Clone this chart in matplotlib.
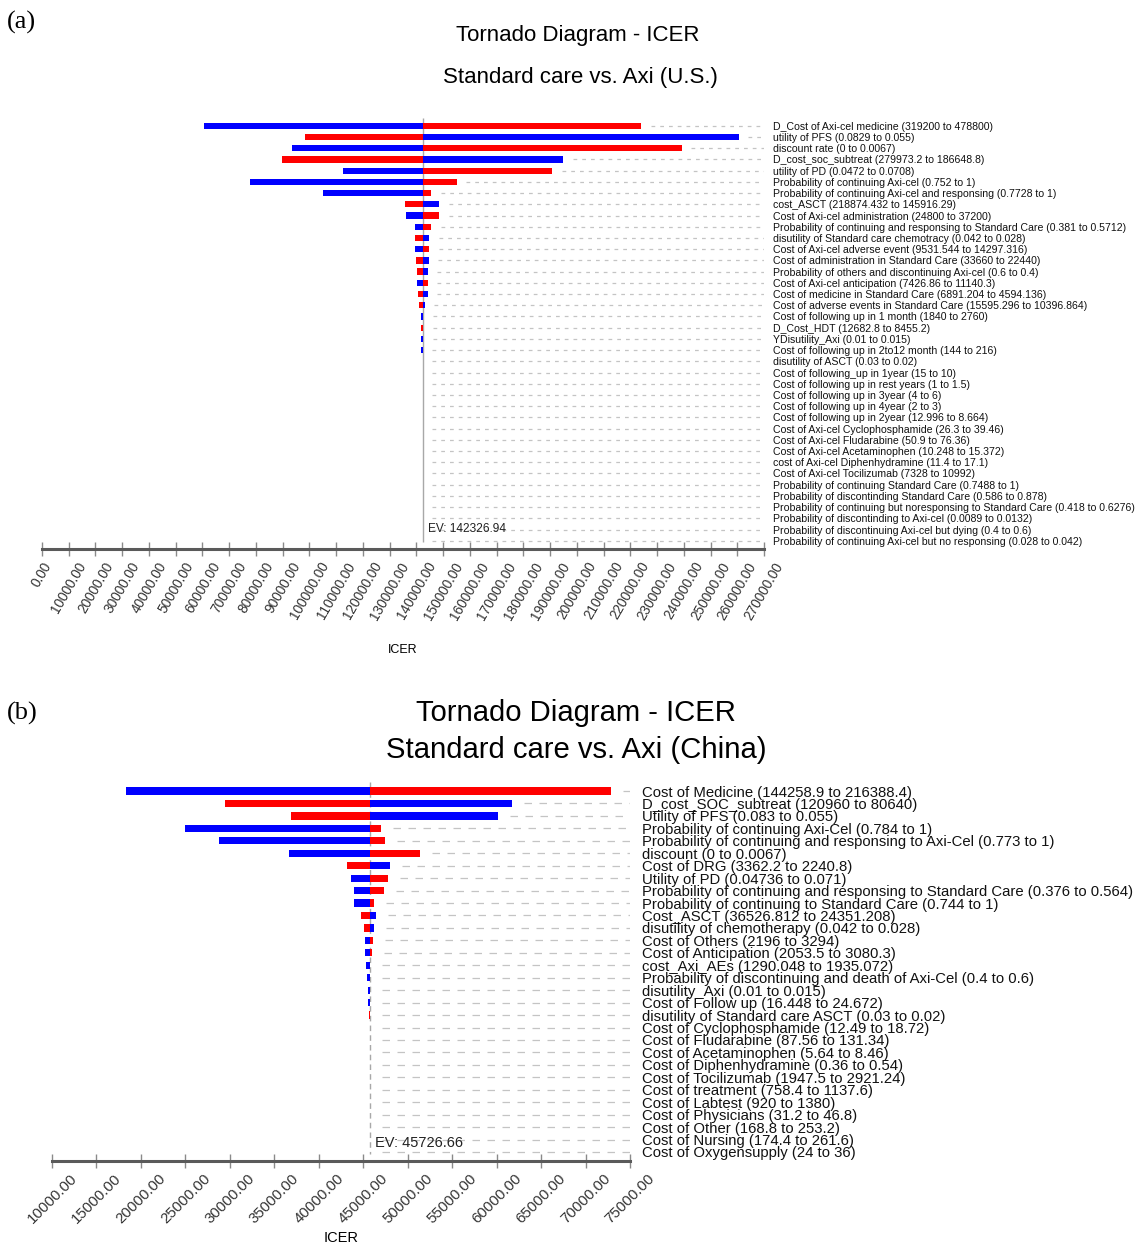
import matplotlib
matplotlib.use("Agg")
import matplotlib.pyplot as plt
from matplotlib import font_manager
import numpy as np

# ---------------- panel (a): U.S. ----------------
us_labels = [
    "D_Cost of Axi-cel medicine (319200 to 478800)",
    "utility of PFS (0.0829 to 0.055)",
    "discount rate (0 to 0.0067)",
    "D_cost_soc_subtreat (279973.2 to 186648.8)",
    "utility of PD (0.0472 to 0.0708)",
    "Probability of continuing Axi-cel (0.752 to 1)",
    "Probability of continuing Axi-cel and responsing (0.7728 to 1)",
    "cost_ASCT (218874.432 to 145916.29)",
    "Cost of Axi-cel administration (24800 to 37200)",
    "Probability of continuing and responsing to Standard Care (0.381 to 0.5712)",
    "disutility of Standard care chemotracy (0.042 to 0.028)",
    "Cost of Axi-cel adverse event (9531.544 to 14297.316)",
    "Cost of administration in Standard Care (33660 to 22440)",
    "Probability of others and discontinuing Axi-cel (0.6 to 0.4)",
    "Cost of Axi-cel anticipation (7426.86 to 11140.3)",
    "Cost of medicine in Standard Care (6891.204 to 4594.136)",
    "Cost of adverse events in Standard Care (15595.296 to 10396.864)",
    "Cost of following up in 1 month (1840 to 2760)",
    "D_Cost_HDT (12682.8 to 8455.2)",
    "YDisutility_Axi (0.01 to 0.015)",
    "Cost of following up in 2to12 month (144 to 216)",
    "disutility of ASCT (0.03 to 0.02)",
    "Cost of following_up in 1year (15 to 10)",
    "Cost of following up in rest years (1 to 1.5)",
    "Cost of following up in 3year (4 to 6)",
    "Cost of following up in 4year (2 to 3)",
    "Cost of following up in 2year (12.996 to 8.664)",
    "Cost of Axi-cel Cyclophosphamide (26.3 to 39.46)",
    "Cost of Axi-cel Fludarabine (50.9 to 76.36)",
    "Cost of Axi-cel Acetaminophen (10.248 to 15.372)",
    "cost of Axi-cel Diphenhydramine (11.4 to 17.1)",
    "Cost of Axi-cel Tocilizumab (7328 to 10992)",
    "Probability of continuing Standard Care (0.7488 to 1)",
    "Probability of discontinding Standard Care (0.586 to 0.878)",
    "Probability of continuing but noresponsing to Standard Care (0.418 to 0.6276)",
    "Probability of discontinding to Axi-cel (0.0089 to 0.0132)",
    "Probability of discontinuing Axi-cel but dying (0.4 to 0.6)",
    "Probability of continuing Axi-cel but no responsing (0.028 to 0.042)",
]
# ICER at the low end of each parameter (blue) and at the high end (red)
us_blue = [60600, 260500, 93500, 195000, 112700, 77700, 105100, 148500, 136000,
           139600, 144900, 139600, 144600, 144300, 140300, 144200, 143100, 141800,
           142450, 141800, 141900, 142350, 142350, 142350, 142350, 142350, 142350,
           142350, 142350, 142350, 142350, 142350, 142350, 142350, 142350, 142350,
           142350, 142350]
us_red = [224000, 98500, 239200, 89700, 190700, 155100, 145600, 135800, 148500,
          145600, 139600, 144800, 140000, 140300, 144300, 140500, 141000, 142450,
          141900, 142450, 142400, 142300, 142300, 142300, 142300, 142300, 142300,
          142300, 142300, 142300, 142300, 142300, 142300, 142300, 142300, 142300,
          142300, 142300]
us_ev = 142326.94
us_ticks = np.arange(0, 270001, 10000)

# ---------------- panel (b): China ----------------
cn_labels = [
    "Cost of Medicine (144258.9 to 216388.4)",
    "D_cost_SOC_subtreat (120960 to 80640)",
    "Utility of PFS (0.083 to 0.055)",
    "Probability of continuing Axi-Cel (0.784 to 1)",
    "Probability of continuing and responsing to Axi-Cel (0.773 to 1)",
    "discount (0 to 0.0067)",
    "Cost of DRG (3362.2 to 2240.8)",
    "Utility of PD (0.04736 to 0.071)",
    "Probability of continuing and responsing to Standard Care (0.376 to 0.564)",
    "Probability of continuing to Standard Care (0.744 to 1)",
    "Cost_ASCT (36526.812 to 24351.208)",
    "disutility of chemotherapy (0.042 to 0.028)",
    "Cost of Others (2196 to 3294)",
    "Cost of Anticipation (2053.5 to 3080.3)",
    "cost_Axi_AEs (1290.048 to 1935.072)",
    "Probability of discontinuing and death of Axi-Cel (0.4 to 0.6)",
    "disutility_Axi (0.01 to 0.015)",
    "Cost of Follow up (16.448 to 24.672)",
    "disutility of Standard care ASCT (0.03 to 0.02)",
    "Cost of Cyclophosphamide (12.49 to 18.72)",
    "Cost of Fludarabine (87.56 to 131.34)",
    "Cost of Acetaminophen (5.64 to 8.46)",
    "Cost of Diphenhydramine (0.36 to 0.54)",
    "Cost of Tocilizumab (1947.5 to 2921.24)",
    "Cost of treatment (758.4 to 1137.6)",
    "Cost of Labtest (920 to 1380)",
    "Cost of Physicians (31.2 to 46.8)",
    "Cost of Other (168.8 to 253.2)",
    "Cost of Nursing (174.4 to 261.6)",
    "Cost of Oxygensupply (24 to 36)",
]
cn_blue = [18300, 61700, 60200, 25000, 28800, 36700, 48000, 43600, 44000, 44000,
           46400, 46200, 45200, 45200, 45330, 45450, 45500, 45500, 45760, 45740,
           45740, 45740, 45740, 45740, 45740, 45740, 45740, 45740, 45740, 45740]
cn_red = [72900, 29400, 36900, 47000, 47400, 51400, 43200, 47800, 47300, 46200,
          44800, 45100, 46070, 45990, 45780, 45760, 45750, 45750, 45600, 45710,
          45710, 45710, 45710, 45710, 45710, 45710, 45710, 45710, 45710, 45710]
cn_ev = 45726.66
cn_ticks = np.arange(10000, 75001, 5000)

W, H = 1146, 1245
BLUE = "#0000ff"
RED = "#ff0000"

available = {f.name for f in font_manager.fontManager.ttflist}
# the (a) panel uses a narrow face in the original; fall back to Liberation Sans
NARROW = "Liberation Sans Narrow" if "Liberation Sans Narrow" in available else "Liberation Sans"
REG = "Liberation Sans"


def axes_rect(x0, x1, y0, y1):
    """pixel box -> figure fraction rect"""
    return [x0 / W, 1 - y1 / H, (x1 - x0) / W, (y1 - y0) / H]


def draw_tornado(ax, labels, blue, red, ev, ticks, font, lab_size, tick_size,
                 tick_rot, pad, gap, dash, center_style, bar_h=0.56):
    rows = np.arange(1, len(labels) + 1)
    blue = np.array(blue, dtype=float)
    red = np.array(red, dtype=float)
    xmax = ticks[-1]

    # dashed guide lines to the right of each bar
    start = np.maximum(np.maximum(blue, red), ev) + gap
    ax.hlines(rows, start, xmax, colors="#c4c4c4", linestyles=[(0, dash)],
              lw=0.9, zorder=1)
    # centre line at the expected value
    ax.vlines(ev, rows[0] - 0.7, rows[-1] + 0.15, colors="#a8a8a8",
              linestyles=center_style, lw=1.0, zorder=2)

    ax.barh(rows, blue - ev, left=ev, height=bar_h, color=BLUE, lw=0, zorder=3)
    ax.barh(rows, red - ev, left=ev, height=bar_h, color=RED, lw=0, zorder=3)

    ax.set_xlim(ticks[0], xmax)
    ax.set_ylim(rows[-1] + 0.7, rows[0] - 0.7)

    for s in ["top", "left", "right"]:
        ax.spines[s].set_visible(False)
    ax.spines["bottom"].set_color("#5a5a5a")
    ax.spines["bottom"].set_linewidth(2.2)

    ax.yaxis.tick_right()
    ax.set_yticks(rows)
    ax.set_yticklabels(labels, fontsize=lab_size, family=font, color="#111111")
    ax.tick_params(axis="y", length=0, pad=pad)

    ax.set_xticks(ticks)
    ax.set_xticklabels([f"{t:.2f}" for t in ticks], rotation=tick_rot,
                       fontsize=tick_size, family=font, color="#333333")
    ax.tick_params(axis="x", direction="inout", length=10, width=1.0,
                   color="#8a8a8a", pad=3)
    return rows


fig = plt.figure(figsize=(W / 100, H / 100), dpi=100)

# panel (a)
ax_a = fig.add_axes(axes_rect(42, 764, 118, 548.6))
rows_a = draw_tornado(ax_a, us_labels, us_blue, us_red, us_ev, us_ticks, NARROW,
                      7.6, 9.8, 60, 6.2, 3600, (3, 4), "-")
ax_a.annotate(f"EV: {us_ev:.2f}", xy=(us_ev, rows_a[-2] - 0.05), xytext=(4, 0),
              textcoords="offset points", va="center", ha="left",
              fontsize=8.6, family=NARROW, color="#222222")
ax_a.set_xlabel("ICER", fontsize=9, family=NARROW, va="center")
ax_a.xaxis.set_label_coords(0.5, -0.2355)

# panel (b)
ax_b = fig.add_axes(axes_rect(52, 630, 782.3, 1160.7))
rows_b = draw_tornado(ax_b, cn_labels, cn_blue, cn_red, cn_ev, cn_ticks, REG,
                      10.7, 10.8, 45, 8.6, 1350, (6, 6), (0, (4, 3)),
                      bar_h=0.58)
ax_b.annotate(f"EV: {cn_ev:.2f}", xy=(cn_ev, rows_b[-2] + 0.3), xytext=(4, 0),
              textcoords="offset points", va="center", ha="left",
              fontsize=10.5, family=REG, color="#222222")
ax_b.set_xlabel("ICER", fontsize=10.5, family=REG, va="center")
ax_b.xaxis.set_label_coords(0.5, -0.2043)

# titles
fig.text(578 / W, 1 - 35 / H, "Tornado Diagram - ICER", ha="center", va="center",
         fontsize=16, family=NARROW)
fig.text(580 / W, 1 - 77 / H, "Standard care vs. Axi (U.S.)", ha="center",
         va="center", fontsize=16, family=NARROW)
fig.text(576 / W, 1 - 713 / H, "Tornado Diagram - ICER", ha="center", va="center",
         fontsize=21.1, family=REG)
fig.text(576 / W, 1 - 750 / H, "Standard care vs. Axi (China)", ha="center",
         va="center", fontsize=21.1, family=REG)

fig.text(7 / W, 1 - 22 / H, "(a)", ha="left", va="center", fontsize=19,
         family="Liberation Serif")
fig.text(7 / W, 1 - 713 / H, "(b)", ha="left", va="center", fontsize=19,
         family="Liberation Serif")

fig.savefig("out.png", dpi=100, facecolor="white")
